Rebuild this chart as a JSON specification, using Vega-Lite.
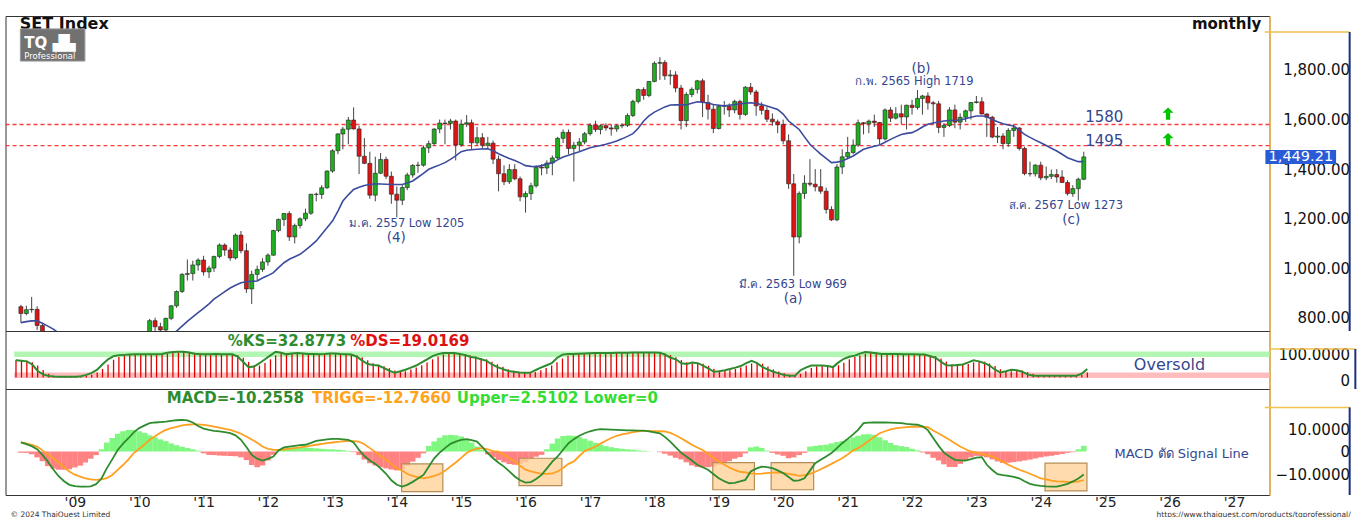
{
"$schema":"https://vega.github.io/schema/vega-lite/v6.json",
"padding":{"left":3.5,"top":15,"right":0,"bottom":0},
"background":"white",
"spacing":0,
"bounds":"flush",
"config":{"view":{"stroke":"#333","strokeWidth":1},"font":"DejaVu Sans"},
"datasets":{"set":[
{"t":"2008-03-01","o":844.6,"h":852,"l":780,"c":817.0,"ma":780,"k":66,"d":68,"m":4.1,"s":4.1,"hh":-0.5},
{"t":"2008-04-01","o":817.0,"h":848,"l":810,"c":832.5,"ma":784,"k":64,"d":66,"m":3.3,"s":3.6,"hh":-0.6},
{"t":"2008-05-01","o":832.5,"h":884,"l":820,"c":833.7,"ma":787,"k":62,"d":64,"m":2.4,"s":2.9,"hh":-1.2},
{"t":"2008-06-01","o":833.7,"h":846,"l":750,"c":768.6,"ma":787,"k":50,"d":59,"m":1.0,"s":2.2,"hh":-2.6},
{"t":"2008-07-01","o":768.6,"h":775,"l":650,"c":676.0,"ma":778,"k":25,"d":46,"m":-1.5,"s":0.5,"hh":-4.3},
{"t":"2008-08-01","o":676.0,"h":720,"l":650,"c":684.4,"ma":766,"k":12,"d":29,"m":-4.5,"s":-1.3,"hh":-6.5},
{"t":"2008-09-01","o":684.4,"h":700,"l":580,"c":596.5,"ma":754,"k":6,"d":14,"m":-8.0,"s":-3.0,"hh":-7.6},
{"t":"2008-10-01","o":596.5,"h":610,"l":380,"c":416.5,"ma":738,"k":4,"d":7,"m":-11.0,"s":-5.0,"hh":-8.1},
{"t":"2008-11-01","o":416.5,"h":440,"l":384,"c":401.0,"ma":722,"k":3,"d":4,"m":-13.2,"s":-7.0,"hh":-8.1},
{"t":"2008-12-01","o":401.0,"h":460,"l":390,"c":450.0,"ma":706,"k":3,"d":3,"m":-14.8,"s":-8.9,"hh":-7.9},
{"t":"2009-01-01","o":450.0,"h":460,"l":422,"c":437.7,"ma":690,"k":3,"d":3,"m":-15.4,"s":-10.3,"hh":-7.1},
{"t":"2009-02-01","o":437.7,"h":455,"l":415,"c":431.5,"ma":675,"k":3,"d":3,"m":-15.6,"s":-11.2,"hh":-6.3},
{"t":"2009-03-01","o":431.5,"h":450,"l":412,"c":431.5,"ma":660,"k":5,"d":4,"m":-15.6,"s":-11.9,"hh":-4.9},
{"t":"2009-04-01","o":431.5,"h":500,"l":425,"c":491.1,"ma":648,"k":10,"d":6,"m":-15.5,"s":-12.4,"hh":-3.2},
{"t":"2009-05-01","o":491.1,"h":570,"l":488,"c":560.4,"ma":638,"k":18,"d":11,"m":-14.5,"s":-12.6,"hh":-1.6},
{"t":"2009-06-01","o":560.4,"h":610,"l":545,"c":597.5,"ma":630,"k":30,"d":19,"m":-12.0,"s":-12.4,"hh":1.0},
{"t":"2009-07-01","o":597.5,"h":630,"l":575,"c":624.0,"ma":625,"k":51,"d":33,"m":-7.5,"s":-11.8,"hh":4.0},
{"t":"2009-08-01","o":624.0,"h":665,"l":615,"c":653.3,"ma":622,"k":70,"d":50,"m":-3.5,"s":-10.4,"hh":6.0},
{"t":"2009-09-01","o":653.3,"h":720,"l":640,"c":717.1,"ma":622,"k":82,"d":68,"m":0.7,"s":-8.2,"hh":7.9},
{"t":"2009-10-01","o":717.1,"h":738,"l":660,"c":671.3,"ma":624,"k":86,"d":79,"m":3.5,"s":-6.0,"hh":9.0},
{"t":"2009-11-01","o":671.3,"h":710,"l":630,"c":689.1,"ma":628,"k":87,"d":85,"m":5.9,"s":-3.5,"hh":9.6},
{"t":"2009-12-01","o":689.1,"h":737,"l":680,"c":734.5,"ma":634,"k":88,"d":87,"m":8.5,"s":-0.7,"hh":9.6},
{"t":"2010-01-01","o":734.5,"h":742,"l":680,"c":696.6,"ma":642,"k":89,"d":88,"m":10.4,"s":1.2,"hh":9.0},
{"t":"2010-02-01","o":696.6,"h":730,"l":685,"c":726.1,"ma":652,"k":89,"d":89,"m":11.6,"s":3.2,"hh":8.3},
{"t":"2010-03-01","o":726.1,"h":795,"l":720,"c":788.0,"ma":664,"k":89,"d":89,"m":12.6,"s":5.2,"hh":7.2},
{"t":"2010-04-01","o":788.0,"h":800,"l":743,"c":763.5,"ma":677,"k":89,"d":89,"m":12.9,"s":6.8,"hh":6.3},
{"t":"2010-05-01","o":763.5,"h":780,"l":715,"c":750.4,"ma":690,"k":89,"d":89,"m":13.1,"s":8.3,"hh":5.4},
{"t":"2010-06-01","o":750.4,"h":800,"l":745,"c":797.3,"ma":705,"k":90,"d":89,"m":13.3,"s":9.6,"hh":4.6},
{"t":"2010-07-01","o":797.3,"h":850,"l":790,"c":847.9,"ma":725,"k":95,"d":91,"m":13.6,"s":10.4,"hh":3.6},
{"t":"2010-08-01","o":847.9,"h":910,"l":840,"c":905.5,"ma":746,"k":98,"d":94,"m":13.9,"s":11.0,"hh":2.8},
{"t":"2010-09-01","o":905.5,"h":980,"l":900,"c":974.8,"ma":766,"k":99,"d":97,"m":14.1,"s":11.6,"hh":2.1},
{"t":"2010-10-01","o":974.8,"h":1035,"l":950,"c":978.0,"ma":785,"k":99,"d":99,"m":13.8,"s":11.9,"hh":1.6},
{"t":"2010-11-01","o":978.0,"h":1030,"l":950,"c":1012.9,"ma":803,"k":96,"d":98,"m":12.9,"s":12.1,"hh":1.0},
{"t":"2010-12-01","o":1012.9,"h":1040,"l":990,"c":1032.8,"ma":820,"k":91,"d":95,"m":11.3,"s":12.1,"hh":0.4},
{"t":"2011-01-01","o":1032.8,"h":1050,"l":970,"c":984.9,"ma":838,"k":89,"d":92,"m":10.2,"s":11.8,"hh":-0.8},
{"t":"2011-02-01","o":984.9,"h":1010,"l":960,"c":1000.3,"ma":856,"k":89,"d":90,"m":9.6,"s":11.5,"hh":-1.5},
{"t":"2011-03-01","o":1000.3,"h":1050,"l":985,"c":1047.4,"ma":875,"k":89,"d":89,"m":9.2,"s":11.1,"hh":-1.6},
{"t":"2011-04-01","o":1047.4,"h":1100,"l":1040,"c":1093.3,"ma":890,"k":90,"d":89,"m":8.9,"s":10.6,"hh":-1.8},
{"t":"2011-05-01","o":1093.3,"h":1100,"l":1050,"c":1073.0,"ma":905,"k":89,"d":89,"m":8.6,"s":10.1,"hh":-1.9},
{"t":"2011-06-01","o":1073.0,"h":1083,"l":1030,"c":1041.5,"ma":920,"k":89,"d":89,"m":8.2,"s":9.6,"hh":-2.0},
{"t":"2011-07-01","o":1041.5,"h":1140,"l":1035,"c":1133.5,"ma":931,"k":89,"d":89,"m":7.2,"s":8.8,"hh":-2.1},
{"t":"2011-08-01","o":1133.5,"h":1150,"l":1060,"c":1070.6,"ma":941,"k":80,"d":86,"m":5.2,"s":7.9,"hh":-2.6},
{"t":"2011-09-01","o":1070.6,"h":1100,"l":900,"c":916.2,"ma":945,"k":60,"d":76,"m":2.0,"s":6.7,"hh":-3.8},
{"t":"2011-10-01","o":916.2,"h":990,"l":855,"c":974.8,"ma":947,"k":40,"d":60,"m":-1.5,"s":5.3,"hh":-6.0},
{"t":"2011-11-01","o":974.8,"h":1010,"l":950,"c":995.0,"ma":948,"k":42,"d":47,"m":-3.2,"s":3.9,"hh":-7.0},
{"t":"2011-12-01","o":995.0,"h":1040,"l":985,"c":1025.3,"ma":960,"k":55,"d":46,"m":-4.0,"s":2.2,"hh":-6.2},
{"t":"2012-01-01","o":1025.3,"h":1060,"l":1010,"c":1052.4,"ma":970,"k":70,"d":56,"m":-3.3,"s":1.2,"hh":-4.0},
{"t":"2012-02-01","o":1052.4,"h":1155,"l":1050,"c":1151.8,"ma":982,"k":85,"d":70,"m":-2.2,"s":0.7,"hh":-1.5},
{"t":"2012-03-01","o":1151.8,"h":1200,"l":1145,"c":1196.8,"ma":1002,"k":99,"d":85,"m":0.5,"s":0.7,"hh":1.0},
{"t":"2012-04-01","o":1196.8,"h":1222,"l":1170,"c":1220.6,"ma":1022,"k":95,"d":93,"m":1.8,"s":0.9,"hh":1.5},
{"t":"2012-05-01","o":1220.6,"h":1230,"l":1110,"c":1126.1,"ma":1036,"k":89,"d":94,"m":2.2,"s":1.2,"hh":1.7},
{"t":"2012-06-01","o":1126.1,"h":1180,"l":1100,"c":1172.1,"ma":1046,"k":92,"d":92,"m":2.5,"s":1.5,"hh":1.8},
{"t":"2012-07-01","o":1172.1,"h":1205,"l":1160,"c":1199.1,"ma":1056,"k":94,"d":92,"m":2.8,"s":1.8,"hh":1.8},
{"t":"2012-08-01","o":1199.1,"h":1240,"l":1190,"c":1221.9,"ma":1073,"k":92,"d":93,"m":3.0,"s":2.2,"hh":1.8},
{"t":"2012-09-01","o":1221.9,"h":1300,"l":1215,"c":1298.4,"ma":1091,"k":90,"d":92,"m":3.8,"s":2.6,"hh":1.6},
{"t":"2012-10-01","o":1298.4,"h":1305,"l":1270,"c":1297.7,"ma":1110,"k":90,"d":91,"m":4.7,"s":3.0,"hh":1.4},
{"t":"2012-11-01","o":1297.7,"h":1335,"l":1280,"c":1324.5,"ma":1137,"k":89,"d":90,"m":5.1,"s":3.4,"hh":1.2},
{"t":"2012-12-01","o":1324.5,"h":1395,"l":1320,"c":1391.9,"ma":1163,"k":90,"d":90,"m":5.4,"s":3.7,"hh":1.0},
{"t":"2013-01-01","o":1391.9,"h":1480,"l":1385,"c":1474.3,"ma":1190,"k":92,"d":90,"m":5.6,"s":4.0,"hh":1.0},
{"t":"2013-02-01","o":1474.3,"h":1545,"l":1460,"c":1541.9,"ma":1230,"k":92,"d":91,"m":5.6,"s":4.3,"hh":0.8},
{"t":"2013-03-01","o":1541.9,"h":1570,"l":1480,"c":1561.1,"ma":1271,"k":90,"d":91,"m":5.4,"s":4.5,"hh":0.6},
{"t":"2013-04-01","o":1561.1,"h":1610,"l":1500,"c":1597.9,"ma":1296,"k":89,"d":90,"m":5.2,"s":4.7,"hh":0.3},
{"t":"2013-05-01","o":1597.9,"h":1649,"l":1560,"c":1562.1,"ma":1318,"k":88,"d":89,"m":4.0,"s":4.6,"hh":-0.3},
{"t":"2013-06-01","o":1562.1,"h":1575,"l":1380,"c":1451.9,"ma":1327,"k":80,"d":86,"m":0.7,"s":4.4,"hh":-1.6},
{"t":"2013-07-01","o":1451.9,"h":1525,"l":1420,"c":1423.1,"ma":1334,"k":65,"d":78,"m":-2.0,"s":3.2,"hh":-3.6},
{"t":"2013-08-01","o":1423.1,"h":1470,"l":1280,"c":1294.7,"ma":1338,"k":52,"d":66,"m":-4.0,"s":1.5,"hh":-5.2},
{"t":"2013-09-01","o":1294.7,"h":1450,"l":1270,"c":1383.2,"ma":1341,"k":48,"d":55,"m":-5.5,"s":-0.2,"hh":-6.2},
{"t":"2013-10-01","o":1383.2,"h":1465,"l":1380,"c":1438.9,"ma":1340,"k":46,"d":49,"m":-7.5,"s":-2.0,"hh":-7.0},
{"t":"2013-11-01","o":1438.9,"h":1450,"l":1360,"c":1371.1,"ma":1339,"k":36,"d":43,"m":-9.9,"s":-3.7,"hh":-7.5},
{"t":"2013-12-01","o":1371.1,"h":1390,"l":1260,"c":1298.7,"ma":1338,"k":26,"d":36,"m":-12.8,"s":-5.6,"hh":-8.0},
{"t":"2014-01-01","o":1298.7,"h":1330,"l":1205,"c":1274.3,"ma":1338,"k":18,"d":27,"m":-14.8,"s":-7.5,"hh":-8.4},
{"t":"2014-02-01","o":1274.3,"h":1335,"l":1255,"c":1325.3,"ma":1338,"k":24,"d":23,"m":-15.6,"s":-8.5,"hh":-7.8},
{"t":"2014-03-01","o":1325.3,"h":1385,"l":1315,"c":1376.3,"ma":1344,"k":30,"d":24,"m":-14.8,"s":-10.0,"hh":-6.3},
{"t":"2014-04-01","o":1376.3,"h":1420,"l":1365,"c":1414.9,"ma":1352,"k":38,"d":31,"m":-13.5,"s":-10.8,"hh":-4.5},
{"t":"2014-05-01","o":1414.9,"h":1430,"l":1385,"c":1415.7,"ma":1367,"k":46,"d":38,"m":-12.0,"s":-11.4,"hh":-2.8},
{"t":"2014-06-01","o":1415.7,"h":1495,"l":1410,"c":1485.8,"ma":1383,"k":58,"d":47,"m":-10.4,"s":-11.9,"hh":-0.8},
{"t":"2014-07-01","o":1485.8,"h":1515,"l":1465,"c":1502.7,"ma":1399,"k":70,"d":58,"m":-6.8,"s":-11.5,"hh":2.5},
{"t":"2014-08-01","o":1502.7,"h":1565,"l":1495,"c":1561.6,"ma":1408,"k":82,"d":70,"m":-3.0,"s":-10.8,"hh":4.5},
{"t":"2014-09-01","o":1561.6,"h":1600,"l":1545,"c":1585.7,"ma":1417,"k":90,"d":81,"m":-0.5,"s":-10.0,"hh":6.1},
{"t":"2014-10-01","o":1585.7,"h":1600,"l":1500,"c":1584.2,"ma":1426,"k":94,"d":89,"m":1.5,"s":-8.6,"hh":7.2},
{"t":"2014-11-01","o":1584.2,"h":1603,"l":1560,"c":1593.9,"ma":1439,"k":94,"d":93,"m":3.4,"s":-6.7,"hh":7.4},
{"t":"2014-12-01","o":1593.9,"h":1600,"l":1435,"c":1497.7,"ma":1453,"k":94,"d":94,"m":4.4,"s":-4.9,"hh":7.2},
{"t":"2015-01-01","o":1497.7,"h":1600,"l":1490,"c":1581.3,"ma":1470,"k":90,"d":93,"m":5.2,"s":-2.8,"hh":6.7},
{"t":"2015-02-01","o":1581.3,"h":1618,"l":1570,"c":1587.0,"ma":1476,"k":86,"d":90,"m":5.5,"s":-0.7,"hh":5.6},
{"t":"2015-03-01","o":1587.0,"h":1600,"l":1480,"c":1505.9,"ma":1478,"k":80,"d":85,"m":5.1,"s":0.5,"hh":4.0},
{"t":"2015-04-01","o":1505.9,"h":1570,"l":1495,"c":1526.7,"ma":1480,"k":76,"d":81,"m":4.4,"s":1.3,"hh":2.2},
{"t":"2015-05-01","o":1526.7,"h":1545,"l":1480,"c":1496.1,"ma":1481,"k":70,"d":75,"m":2.0,"s":1.5,"hh":0.8},
{"t":"2015-06-01","o":1496.1,"h":1530,"l":1480,"c":1504.6,"ma":1482,"k":64,"d":70,"m":-0.7,"s":1.0,"hh":-1.3},
{"t":"2015-07-01","o":1504.6,"h":1515,"l":1420,"c":1440.1,"ma":1474,"k":50,"d":61,"m":-3.0,"s":0.2,"hh":-2.6},
{"t":"2015-08-01","o":1440.1,"h":1455,"l":1310,"c":1381.1,"ma":1462,"k":40,"d":51,"m":-5.0,"s":0.0,"hh":-3.8},
{"t":"2015-09-01","o":1381.1,"h":1415,"l":1335,"c":1349.0,"ma":1452,"k":32,"d":41,"m":-6.7,"s":-1.5,"hh":-4.8},
{"t":"2015-10-01","o":1349.0,"h":1420,"l":1340,"c":1397.9,"ma":1443,"k":25,"d":32,"m":-8.8,"s":-3.0,"hh":-5.6},
{"t":"2015-11-01","o":1397.9,"h":1420,"l":1355,"c":1360.7,"ma":1435,"k":22,"d":26,"m":-11.1,"s":-4.4,"hh":-5.9},
{"t":"2015-12-01","o":1360.7,"h":1370,"l":1270,"c":1288.0,"ma":1425,"k":19,"d":22,"m":-12.8,"s":-6.3,"hh":-5.5},
{"t":"2016-01-01","o":1288.0,"h":1310,"l":1224,"c":1301.0,"ma":1414,"k":18,"d":20,"m":-13.8,"s":-8.1,"hh":-4.7},
{"t":"2016-02-01","o":1301.0,"h":1345,"l":1275,"c":1332.4,"ma":1411,"k":18,"d":18,"m":-13.6,"s":-8.8,"hh":-3.4},
{"t":"2016-03-01","o":1332.4,"h":1415,"l":1325,"c":1407.7,"ma":1410,"k":28,"d":21,"m":-12.2,"s":-9.4,"hh":-2.3},
{"t":"2016-04-01","o":1407.7,"h":1420,"l":1375,"c":1404.4,"ma":1414,"k":38,"d":28,"m":-10.4,"s":-9.9,"hh":-1.5},
{"t":"2016-05-01","o":1404.4,"h":1435,"l":1380,"c":1424.3,"ma":1420,"k":46,"d":37,"m":-7.5,"s":-9.9,"hh":1.0},
{"t":"2016-06-01","o":1424.3,"h":1455,"l":1375,"c":1445.0,"ma":1426,"k":55,"d":46,"m":-4.5,"s":-9.7,"hh":3.5},
{"t":"2016-07-01","o":1445.0,"h":1530,"l":1440,"c":1524.1,"ma":1437,"k":75,"d":59,"m":-2.2,"s":-8.9,"hh":5.8},
{"t":"2016-08-01","o":1524.1,"h":1560,"l":1505,"c":1548.2,"ma":1449,"k":88,"d":73,"m":0.8,"s":-7.3,"hh":6.9},
{"t":"2016-09-01","o":1548.2,"h":1560,"l":1460,"c":1483.2,"ma":1456,"k":90,"d":84,"m":3.7,"s":-5.5,"hh":7.1},
{"t":"2016-10-01","o":1483.2,"h":1510,"l":1350,"c":1496.0,"ma":1463,"k":90,"d":89,"m":5.5,"s":-4.4,"hh":7.0},
{"t":"2016-11-01","o":1496.0,"h":1525,"l":1470,"c":1509.3,"ma":1470,"k":91,"d":90,"m":7.0,"s":-2.0,"hh":6.4},
{"t":"2016-12-01","o":1509.3,"h":1550,"l":1500,"c":1542.9,"ma":1478,"k":92,"d":91,"m":8.1,"s":0.2,"hh":5.7},
{"t":"2017-01-01","o":1542.9,"h":1585,"l":1535,"c":1577.1,"ma":1486,"k":93,"d":92,"m":9.0,"s":1.2,"hh":4.8},
{"t":"2017-02-01","o":1577.1,"h":1595,"l":1550,"c":1559.6,"ma":1491,"k":94,"d":93,"m":9.6,"s":2.2,"hh":3.8},
{"t":"2017-03-01","o":1559.6,"h":1580,"l":1540,"c":1575.1,"ma":1495,"k":94,"d":94,"m":9.9,"s":3.5,"hh":3.0},
{"t":"2017-04-01","o":1575.1,"h":1585,"l":1555,"c":1566.3,"ma":1500,"k":94,"d":94,"m":9.8,"s":4.8,"hh":2.4},
{"t":"2017-05-01","o":1566.3,"h":1580,"l":1535,"c":1561.8,"ma":1506,"k":94,"d":94,"m":9.7,"s":6.0,"hh":1.9},
{"t":"2017-06-01","o":1561.8,"h":1580,"l":1550,"c":1574.7,"ma":1513,"k":95,"d":94,"m":9.6,"s":7.0,"hh":1.5},
{"t":"2017-07-01","o":1574.7,"h":1585,"l":1565,"c":1576.7,"ma":1522,"k":95,"d":95,"m":9.5,"s":7.6,"hh":1.2},
{"t":"2017-08-01","o":1576.7,"h":1625,"l":1570,"c":1616.1,"ma":1532,"k":95,"d":95,"m":9.4,"s":8.1,"hh":1.0},
{"t":"2017-09-01","o":1616.1,"h":1680,"l":1610,"c":1673.2,"ma":1543,"k":96,"d":95,"m":9.4,"s":8.6,"hh":0.8},
{"t":"2017-10-01","o":1673.2,"h":1725,"l":1665,"c":1721.0,"ma":1565,"k":96,"d":96,"m":9.3,"s":9.0,"hh":0.5},
{"t":"2017-11-01","o":1721.0,"h":1730,"l":1680,"c":1697.2,"ma":1594,"k":96,"d":96,"m":9.3,"s":9.2,"hh":0.3},
{"t":"2017-12-01","o":1697.2,"h":1755,"l":1690,"c":1753.7,"ma":1615,"k":96,"d":96,"m":8.9,"s":9.2,"hh":0.1},
{"t":"2018-01-01","o":1753.7,"h":1835,"l":1750,"c":1826.9,"ma":1630,"k":96,"d":96,"m":8.5,"s":9.1,"hh":0},
{"t":"2018-02-01","o":1826.9,"h":1852,"l":1760,"c":1830.1,"ma":1641,"k":95,"d":96,"m":8.1,"s":9.0,"hh":-0.3},
{"t":"2018-03-01","o":1830.1,"h":1840,"l":1760,"c":1776.3,"ma":1651,"k":88,"d":93,"m":6.5,"s":8.9,"hh":-1.0},
{"t":"2018-04-01","o":1776.3,"h":1800,"l":1740,"c":1780.2,"ma":1659,"k":76,"d":86,"m":4.4,"s":8.3,"hh":-1.8},
{"t":"2018-05-01","o":1780.2,"h":1795,"l":1710,"c":1727.0,"ma":1660,"k":70,"d":78,"m":2.0,"s":7.2,"hh":-2.8},
{"t":"2018-06-01","o":1727.0,"h":1740,"l":1560,"c":1595.6,"ma":1659,"k":55,"d":67,"m":-0.5,"s":5.9,"hh":-3.5},
{"t":"2018-07-01","o":1595.6,"h":1710,"l":1570,"c":1701.1,"ma":1660,"k":52,"d":59,"m":-2.2,"s":4.5,"hh":-4.8},
{"t":"2018-08-01","o":1701.1,"h":1730,"l":1690,"c":1721.8,"ma":1666,"k":58,"d":55,"m":-4.0,"s":3.0,"hh":-6.2},
{"t":"2018-09-01","o":1721.8,"h":1760,"l":1705,"c":1756.4,"ma":1672,"k":55,"d":55,"m":-5.9,"s":1.8,"hh":-6.9},
{"t":"2018-10-01","o":1756.4,"h":1765,"l":1610,"c":1669.1,"ma":1670,"k":46,"d":53,"m":-7.0,"s":0.7,"hh":-7.1},
{"t":"2018-11-01","o":1669.1,"h":1700,"l":1600,"c":1641.9,"ma":1667,"k":34,"d":45,"m":-8.1,"s":-1.0,"hh":-7.0},
{"t":"2018-12-01","o":1641.9,"h":1660,"l":1545,"c":1563.9,"ma":1661,"k":22,"d":34,"m":-10.0,"s":-2.8,"hh":-6.7},
{"t":"2019-01-01","o":1563.9,"h":1660,"l":1560,"c":1654.0,"ma":1658,"k":24,"d":27,"m":-11.9,"s":-4.4,"hh":-5.9},
{"t":"2019-02-01","o":1654.0,"h":1675,"l":1620,"c":1653.6,"ma":1655,"k":28,"d":25,"m":-13.2,"s":-5.8,"hh":-5.2},
{"t":"2019-03-01","o":1653.6,"h":1665,"l":1610,"c":1638.7,"ma":1658,"k":33,"d":28,"m":-14.1,"s":-7.1,"hh":-4.3},
{"t":"2019-04-01","o":1638.7,"h":1680,"l":1625,"c":1673.2,"ma":1661,"k":38,"d":33,"m":-13.9,"s":-8.2,"hh":-3.2},
{"t":"2019-05-01","o":1673.2,"h":1680,"l":1600,"c":1620.7,"ma":1664,"k":44,"d":38,"m":-13.3,"s":-9.0,"hh":-2.5},
{"t":"2019-06-01","o":1620.7,"h":1735,"l":1615,"c":1730.3,"ma":1666,"k":55,"d":46,"m":-12.6,"s":-9.3,"hh":-0.8},
{"t":"2019-07-01","o":1730.3,"h":1748,"l":1700,"c":1711.4,"ma":1668,"k":64,"d":54,"m":-8.9,"s":-9.7,"hh":1.8},
{"t":"2019-08-01","o":1711.4,"h":1720,"l":1615,"c":1655.3,"ma":1665,"k":55,"d":58,"m":-7.6,"s":-9.9,"hh":2.2},
{"t":"2019-09-01","o":1655.3,"h":1670,"l":1620,"c":1637.2,"ma":1661,"k":40,"d":53,"m":-6.7,"s":-9.8,"hh":1.6},
{"t":"2019-10-01","o":1637.2,"h":1650,"l":1590,"c":1601.5,"ma":1655,"k":30,"d":42,"m":-6.9,"s":-9.6,"hh":0.4},
{"t":"2019-11-01","o":1601.5,"h":1625,"l":1575,"c":1590.6,"ma":1648,"k":22,"d":31,"m":-7.4,"s":-9.4,"hh":-0.6},
{"t":"2019-12-01","o":1590.6,"h":1600,"l":1545,"c":1579.8,"ma":1641,"k":16,"d":23,"m":-8.4,"s":-9.3,"hh":-1.3},
{"t":"2020-01-01","o":1579.8,"h":1600,"l":1500,"c":1514.1,"ma":1622,"k":10,"d":16,"m":-9.6,"s":-9.5,"hh":-1.9},
{"t":"2020-02-01","o":1514.1,"h":1540,"l":1320,"c":1340.5,"ma":1594,"k":7,"d":11,"m":-11.3,"s":-9.9,"hh":-3.0},
{"t":"2020-03-01","o":1340.5,"h":1380,"l":969,"c":1125.9,"ma":1577,"k":7,"d":8,"m":-13.0,"s":-10.3,"hh":-2.6},
{"t":"2020-04-01","o":1125.9,"h":1310,"l":1100,"c":1301.7,"ma":1560,"k":28,"d":14,"m":-12.8,"s":-10.8,"hh":-1.6},
{"t":"2020-05-01","o":1301.7,"h":1375,"l":1280,"c":1342.9,"ma":1530,"k":38,"d":24,"m":-11.9,"s":-10.5,"hh":-0.6},
{"t":"2020-06-01","o":1342.9,"h":1440,"l":1330,"c":1339.0,"ma":1500,"k":46,"d":37,"m":-8.5,"s":-9.9,"hh":2.2},
{"t":"2020-07-01","o":1339.0,"h":1400,"l":1310,"c":1328.5,"ma":1480,"k":46,"d":43,"m":-5.2,"s":-9.0,"hh":2.5},
{"t":"2020-08-01","o":1328.5,"h":1400,"l":1300,"c":1310.7,"ma":1460,"k":46,"d":46,"m":-3.7,"s":-7.9,"hh":2.8},
{"t":"2020-09-01","o":1310.7,"h":1325,"l":1220,"c":1237.0,"ma":1443,"k":44,"d":45,"m":-2.2,"s":-6.7,"hh":3.0},
{"t":"2020-10-01","o":1237.0,"h":1250,"l":1190,"c":1195.0,"ma":1426,"k":40,"d":43,"m":-0.7,"s":-5.5,"hh":3.6},
{"t":"2020-11-01","o":1195.0,"h":1420,"l":1190,"c":1408.3,"ma":1428,"k":58,"d":47,"m":1.5,"s":-4.2,"hh":4.2},
{"t":"2020-12-01","o":1408.3,"h":1480,"l":1380,"c":1449.4,"ma":1433,"k":72,"d":57,"m":3.7,"s":-3.0,"hh":4.7},
{"t":"2021-01-01","o":1449.4,"h":1530,"l":1440,"c":1467.0,"ma":1443,"k":80,"d":70,"m":5.6,"s":-1.3,"hh":5.5},
{"t":"2021-02-01","o":1467.0,"h":1520,"l":1460,"c":1496.8,"ma":1453,"k":84,"d":79,"m":7.6,"s":0.5,"hh":6.3},
{"t":"2021-03-01","o":1496.8,"h":1600,"l":1490,"c":1587.2,"ma":1466,"k":92,"d":85,"m":9.6,"s":1.5,"hh":7.0},
{"t":"2021-04-01","o":1587.2,"h":1590,"l":1540,"c":1583.1,"ma":1480,"k":98,"d":91,"m":12.6,"s":3.0,"hh":7.6},
{"t":"2021-05-01","o":1583.1,"h":1600,"l":1545,"c":1593.6,"ma":1486,"k":96,"d":95,"m":12.8,"s":4.8,"hh":7.7},
{"t":"2021-06-01","o":1593.6,"h":1620,"l":1570,"c":1587.8,"ma":1492,"k":93,"d":96,"m":12.9,"s":6.5,"hh":7.4},
{"t":"2021-07-01","o":1587.8,"h":1590,"l":1500,"c":1521.9,"ma":1497,"k":90,"d":93,"m":12.9,"s":8.1,"hh":6.3},
{"t":"2021-08-01","o":1521.9,"h":1645,"l":1515,"c":1638.8,"ma":1508,"k":90,"d":91,"m":12.9,"s":9.0,"hh":5.0},
{"t":"2021-09-01","o":1638.8,"h":1650,"l":1590,"c":1605.7,"ma":1520,"k":90,"d":90,"m":12.8,"s":9.8,"hh":3.8},
{"t":"2021-10-01","o":1605.7,"h":1650,"l":1600,"c":1623.4,"ma":1530,"k":90,"d":90,"m":12.7,"s":10.3,"hh":2.8},
{"t":"2021-11-01","o":1623.4,"h":1660,"l":1580,"c":1610.4,"ma":1540,"k":89,"d":90,"m":12.6,"s":10.6,"hh":2.4},
{"t":"2021-12-01","o":1610.4,"h":1660,"l":1560,"c":1657.6,"ma":1544,"k":89,"d":89,"m":12.3,"s":10.8,"hh":2.0},
{"t":"2022-01-01","o":1657.6,"h":1680,"l":1620,"c":1648.8,"ma":1547,"k":89,"d":89,"m":12.1,"s":11.0,"hh":1.2},
{"t":"2022-02-01","o":1648.8,"h":1719,"l":1640,"c":1685.2,"ma":1558,"k":88,"d":89,"m":11.9,"s":11.1,"hh":0.5},
{"t":"2022-03-01","o":1685.2,"h":1700,"l":1620,"c":1695.2,"ma":1570,"k":88,"d":88,"m":11.2,"s":11.0,"hh":-0.4},
{"t":"2022-04-01","o":1695.2,"h":1710,"l":1640,"c":1667.4,"ma":1581,"k":82,"d":86,"m":9.5,"s":10.8,"hh":-1.2},
{"t":"2022-05-01","o":1667.4,"h":1675,"l":1580,"c":1663.4,"ma":1586,"k":76,"d":82,"m":6.0,"s":9.3,"hh":-2.8},
{"t":"2022-06-01","o":1663.4,"h":1675,"l":1545,"c":1568.3,"ma":1590,"k":60,"d":73,"m":2.5,"s":8.0,"hh":-4.0},
{"t":"2022-07-01","o":1568.3,"h":1585,"l":1530,"c":1576.4,"ma":1594,"k":47,"d":61,"m":-0.5,"s":6.7,"hh":-5.7},
{"t":"2022-08-01","o":1576.4,"h":1650,"l":1570,"c":1638.9,"ma":1596,"k":46,"d":51,"m":-2.2,"s":5.2,"hh":-6.9},
{"t":"2022-09-01","o":1638.9,"h":1660,"l":1565,"c":1589.5,"ma":1597,"k":48,"d":47,"m":-3.7,"s":3.7,"hh":-6.9},
{"t":"2022-10-01","o":1589.5,"h":1625,"l":1560,"c":1609.1,"ma":1598,"k":50,"d":48,"m":-3.9,"s":2.2,"hh":-5.5},
{"t":"2022-11-01","o":1609.1,"h":1640,"l":1590,"c":1635.1,"ma":1603,"k":58,"d":52,"m":-4.0,"s":1.0,"hh":-4.0},
{"t":"2022-12-01","o":1635.1,"h":1670,"l":1600,"c":1668.7,"ma":1609,"k":66,"d":58,"m":-3.4,"s":0.0,"hh":-2.6},
{"t":"2023-01-01","o":1668.7,"h":1695,"l":1665,"c":1671.5,"ma":1614,"k":62,"d":62,"m":-2.7,"s":-0.4,"hh":-1.9},
{"t":"2023-02-01","o":1671.5,"h":1690,"l":1620,"c":1622.4,"ma":1614,"k":55,"d":61,"m":-2.5,"s":-1.0,"hh":-2.1},
{"t":"2023-03-01","o":1622.4,"h":1625,"l":1530,"c":1609.2,"ma":1612,"k":46,"d":54,"m":-5.9,"s":-1.6,"hh":-2.6},
{"t":"2023-04-01","o":1609.2,"h":1615,"l":1525,"c":1529.1,"ma":1600,"k":30,"d":44,"m":-8.2,"s":-2.2,"hh":-3.5},
{"t":"2023-05-01","o":1529.1,"h":1570,"l":1505,"c":1533.5,"ma":1591,"k":19,"d":32,"m":-10.1,"s":-3.4,"hh":-4.4},
{"t":"2023-06-01","o":1533.5,"h":1545,"l":1480,"c":1503.1,"ma":1583,"k":24,"d":24,"m":-10.5,"s":-4.6,"hh":-5.1},
{"t":"2023-07-01","o":1503.1,"h":1565,"l":1490,"c":1556.1,"ma":1578,"k":30,"d":24,"m":-10.8,"s":-5.9,"hh":-5.0},
{"t":"2023-08-01","o":1556.1,"h":1580,"l":1530,"c":1565.9,"ma":1574,"k":28,"d":27,"m":-11.3,"s":-7.0,"hh":-4.7},
{"t":"2023-09-01","o":1565.9,"h":1570,"l":1475,"c":1483.3,"ma":1557,"k":22,"d":27,"m":-11.9,"s":-8.1,"hh":-4.4},
{"t":"2023-10-01","o":1483.3,"h":1490,"l":1375,"c":1381.8,"ma":1540,"k":12,"d":21,"m":-13.2,"s":-8.9,"hh":-4.0},
{"t":"2023-11-01","o":1381.8,"h":1430,"l":1370,"c":1380.9,"ma":1528,"k":7,"d":14,"m":-14.4,"s":-9.9,"hh":-3.6},
{"t":"2023-12-01","o":1380.9,"h":1420,"l":1370,"c":1415.9,"ma":1517,"k":7,"d":9,"m":-14.9,"s":-10.9,"hh":-3.1},
{"t":"2024-01-01","o":1415.9,"h":1430,"l":1355,"c":1364.5,"ma":1506,"k":7,"d":7,"m":-15.3,"s":-11.9,"hh":-2.6},
{"t":"2024-02-01","o":1364.5,"h":1410,"l":1355,"c":1370.6,"ma":1495,"k":7,"d":7,"m":-15.5,"s":-12.4,"hh":-2.2},
{"t":"2024-03-01","o":1370.6,"h":1398,"l":1360,"c":1377.9,"ma":1484,"k":7,"d":7,"m":-15.6,"s":-12.9,"hh":-1.9},
{"t":"2024-04-01","o":1377.9,"h":1400,"l":1345,"c":1368.0,"ma":1473,"k":7,"d":7,"m":-15.6,"s":-13.3,"hh":-1.5},
{"t":"2024-05-01","o":1368.0,"h":1395,"l":1345,"c":1345.7,"ma":1460,"k":7,"d":7,"m":-15.0,"s":-13.4,"hh":-1.1},
{"t":"2024-06-01","o":1345.7,"h":1355,"l":1293,"c":1301.0,"ma":1446,"k":7,"d":7,"m":-14.4,"s":-13.5,"hh":-0.6},
{"t":"2024-07-01","o":1301.0,"h":1335,"l":1288,"c":1321.2,"ma":1438,"k":7,"d":7,"m":-13.3,"s":-13.6,"hh":-0.3},
{"t":"2024-08-01","o":1321.2,"h":1365,"l":1273,"c":1359.1,"ma":1430,"k":15,"d":10,"m":-12.0,"s":-13.3,"hh":1.0},
{"t":"2024-09-01","o":1359.1,"h":1470,"l":1355,"c":1449.21,"ma":1430,"k":32.88,"d":19.02,"m":-10.26,"s":-12.77,"hh":2.51}
]},
"vconcat":[
{
"width":1264,"height":315,
"layer":[
{"data":{"values":[{"y":1580},{"y":1495}]},"mark":{"type":"rule","color":"#ff3b3b","strokeDash":[4,3],"strokeWidth":1.3},
 "encoding":{"y":{"field":"y","type":"quantitative","scale":{"domain":[746.3,2018],"nice":false,"zero":false},"axis":{"orient":"right","values":[800,1000,1200,1400,1600,1800],"format":",.2f","title":null,"grid":false,"ticks":false,"tickSize":0,"labelAlign":"right","labelPadding":80,"labelFontSize":15,"labelColor":"#111","domainColor":"#f2c14e","domainWidth":1.5}}}},
{"data":{"name":"set"},"mark":{"type":"rule","color":"#444","strokeWidth":1,"clip":true},
 "encoding":{"x":{"field":"t","type":"temporal","scale":{"type":"utc","nice":false,"domain":[{"year":2008,"month":1,"date":2,"utc":true},{"year":2027,"month":6,"date":23,"utc":true}]},"axis":null},
  "y":{"field":"l","type":"quantitative"},"y2":{"field":"h"}}},
{"data":{"name":"set"},"mark":{"type":"bar","size":4,"stroke":"#222","strokeWidth":0.6,"clip":true},
 "encoding":{"x":{"field":"t","type":"temporal","axis":null},"y":{"field":"o","type":"quantitative"},"y2":{"field":"c"},
  "color":{"condition":{"test":"datum.c >= datum.o","value":"#1fae1f"},"value":"#dd1414"}}},
{"data":{"name":"set"},"mark":{"type":"line","color":"#3b4b9e","strokeWidth":1.6,"clip":true},
 "encoding":{"x":{"field":"t","type":"temporal","axis":null},"y":{"field":"ma","type":"quantitative"}}},
{"data":{"values":[{"t":"2014-02-26","v":1178,"txt":"ม.ค. 2557 Low 1205"},{"t":"2020-02-25","v":932,"txt":"มี.ค. 2563 Low 969"},{"t":"2022-01-14","v":1751,"txt":"ก.พ. 2565 High 1719"},{"t":"2024-05-22","v":1251,"txt":"ส.ค. 2567 Low 1273"}]},
 "mark":{"type":"text","fontSize":11.5,"color":"#34468f"},
 "encoding":{"x":{"field":"t","type":"temporal","axis":null},"y":{"field":"v","type":"quantitative"},"text":{"field":"txt"}}},
{"data":{"values":[{"t":"2013-12-29","v":1120,"txt":"(4)"},{"t":"2020-02-27","v":874,"txt":"(a)"},{"t":"2022-02-21","v":1803,"txt":"(b)"},{"t":"2024-06-22","v":1194,"txt":"(c)"}]},
 "mark":{"type":"text","fontSize":13.5,"color":"#34468f"},
 "encoding":{"x":{"field":"t","type":"temporal","axis":null},"y":{"field":"v","type":"quantitative"},"text":{"field":"txt"}}},
{"data":{"values":[{"t":"2024-12-26","v":1610,"txt":"1580"},{"t":"2024-12-26","v":1513,"txt":"1495"}]},
 "mark":{"type":"text","fontSize":15,"color":"#34468f"},
 "encoding":{"x":{"field":"t","type":"temporal","axis":null},"y":{"field":"v","type":"quantitative"},"text":{"field":"txt"}}},
{"data":{"values":[{"t":"2025-12-23","v":1624},{"t":"2025-12-23","v":1521}]},
 "mark":{"type":"point","shape":"M0,-1L0.9,-0.15L0.35,-0.15L0.35,1L-0.35,1L-0.35,-0.15L-0.9,-0.15Z","size":150,"filled":true,"color":"#00c400","opacity":1},
 "encoding":{"x":{"field":"t","type":"temporal","axis":null},"y":{"field":"v","type":"quantitative"}}},
{"data":{"values":[{"t":"2008-02-24","v":1987,"txt":"SET Index"}]},
 "mark":{"type":"text","fontSize":16,"fontWeight":"bold","align":"left","color":"#111"},
 "encoding":{"x":{"field":"t","type":"temporal","axis":null},"y":{"field":"v","type":"quantitative"},"text":{"field":"txt"}}},
{"data":{"values":[{"t":"2027-06-05","v":1985,"txt":"monthly"}]},
 "mark":{"type":"text","fontSize":15,"fontWeight":"bold","align":"right","color":"#111"},
 "encoding":{"x":{"field":"t","type":"temporal","axis":null},"y":{"field":"v","type":"quantitative"},"text":{"field":"txt"}}},
{"data":{"values":[{"t":"2008-02-27","t2":"2009-02-27","v":1966,"v2":1836}]},
 "mark":{"type":"rect","color":"#717171","stroke":"#9a9a9a","strokeWidth":1},
 "encoding":{"x":{"field":"t","type":"temporal","axis":null},"x2":{"field":"t2"},"y":{"field":"v","type":"quantitative"},"y2":{"field":"v2"}}},
{"data":{"values":[{"t":"2008-03-20","v":1909,"txt":"TQ ▟▙"}]},
 "mark":{"type":"text","fontSize":15,"fontWeight":"bold","align":"left","color":"white"},
 "encoding":{"x":{"field":"t","type":"temporal","axis":null},"y":{"field":"v","type":"quantitative"},"text":{"field":"txt"}}},
{"data":{"values":[{"t":"2008-03-20","v":1856,"txt":"Professional"}]},
 "mark":{"type":"text","fontSize":8.5,"align":"left","color":"white"},
 "encoding":{"x":{"field":"t","type":"temporal","axis":null},"y":{"field":"v","type":"quantitative"},"text":{"field":"txt"}}},
{"data":{"values":[{"t":"2027-06-24","t2":"2028-10-18","v":1953.4}]},
 "mark":{"type":"rule","color":"#f2c14e","strokeWidth":1.5},
 "encoding":{"x":{"field":"t","type":"temporal","axis":null},"x2":{"field":"t2"},"y":{"field":"v","type":"quantitative"}}},
{"data":{"values":[{"t":"2028-10-18","v":1953.4,"v2":746.3}]},
 "mark":{"type":"rule","color":"#1f2f7a","strokeWidth":2},
 "encoding":{"x":{"field":"t","type":"temporal","axis":null},"y":{"field":"v","type":"quantitative"},"y2":{"field":"v2"}}},
{"data":{"values":[{"t":"2027-06-28","t2":"2028-08-02","v":1477,"v2":1420}]},
 "mark":{"type":"rect","color":"#2a5bd7"},
 "encoding":{"x":{"field":"t","type":"temporal","axis":null},"x2":{"field":"t2"},"y":{"field":"v","type":"quantitative"},"y2":{"field":"v2"}}},
{"data":{"values":[{"t":"2028-01-15","v":1449,"txt":"1,449.21"}]},
 "mark":{"type":"text","fontSize":14.5,"color":"white"},
 "encoding":{"x":{"field":"t","type":"temporal","axis":null},"y":{"field":"v","type":"quantitative"},"text":{"field":"txt"}}}
]
},
{
"width":1264,"height":58,
"layer":[
{"data":{"values":[{"t":"2008-02-20","t2":"2027-06-23","lo":79,"hi":100,"g":"up"},{"t":"2008-02-20","t2":"2027-06-23","lo":-2,"hi":19,"g":"dn"}]},
 "mark":{"type":"rect"},
 "encoding":{"x":{"field":"t","type":"temporal","scale":{"type":"utc","nice":false,"domain":[{"year":2008,"month":1,"date":2,"utc":true},{"year":2027,"month":6,"date":23,"utc":true}]},"axis":null},"x2":{"field":"t2"},
  "y":{"field":"lo","type":"quantitative","scale":{"domain":[-44.2,178.8],"nice":false,"zero":false},"axis":{"orient":"right","values":[0,100],"labelExpr":"datum.value == 0 ? '0' : format(datum.value, '.4f')","title":null,"grid":false,"ticks":false,"tickSize":0,"labelAlign":"right","labelPadding":80,"labelFontSize":15,"labelColor":"#111","domainColor":"#f2c14e","domainWidth":1.5,"labelOffset":3}},
  "y2":{"field":"hi"},
  "color":{"field":"g","type":"nominal","scale":{"domain":["up","dn"],"range":["#b3f5b3","#ffbcbc"]},"legend":null}}},
{"data":{"name":"set"},"mark":{"type":"rule","color":"#e00000","strokeWidth":1.3},
 "encoding":{"x":{"field":"t","type":"temporal","axis":null},"y":{"field":"d","type":"quantitative"},"y2":{"datum":0}}},
{"data":{"name":"set"},"mark":{"type":"line","color":"#2e8b2e","strokeWidth":2},
 "encoding":{"x":{"field":"t","type":"temporal","axis":null},"y":{"field":"k","type":"quantitative"}}},
{"data":{"values":[{"t":"2013-04-02","v":141,"txt":"%KS=32.8773"}]},
 "mark":{"type":"text","fontSize":15,"fontWeight":"bold","align":"right","color":"#2e8b2e"},
 "encoding":{"x":{"field":"t","type":"temporal","axis":null},"y":{"field":"v","type":"quantitative"},"text":{"field":"txt"}}},
{"data":{"values":[{"t":"2013-04-25","v":141,"txt":"%DS=19.0169"}]},
 "mark":{"type":"text","fontSize":15,"fontWeight":"bold","align":"left","color":"#e01010"},
 "encoding":{"x":{"field":"t","type":"temporal","axis":null},"y":{"field":"v","type":"quantitative"},"text":{"field":"txt"}}},
{"data":{"values":[{"t":"2025-12-07","v":48,"txt":"Oversold"}]},
 "mark":{"type":"text","fontSize":16,"color":"#34468f"},
 "encoding":{"x":{"field":"t","type":"temporal","axis":null},"y":{"field":"v","type":"quantitative"},"text":{"field":"txt"}}},
{"data":{"values":[{"t":"2027-06-24","t2":"2028-10-18","v":109.6}]},
 "mark":{"type":"rule","color":"#f2c14e","strokeWidth":1.5},
 "encoding":{"x":{"field":"t","type":"temporal","axis":null},"x2":{"field":"t2"},"y":{"field":"v","type":"quantitative"}}},
{"data":{"values":[{"t":"2028-10-18","v":109.6,"v2":-44.2}]},
 "mark":{"type":"rule","color":"#1f2f7a","strokeWidth":2},
 "encoding":{"x":{"field":"t","type":"temporal","axis":null},"y":{"field":"v","type":"quantitative"},"y2":{"field":"v2"}}}
]
},
{
"width":1264,"height":106,
"layer":[
{"data":{"name":"set"},"mark":{"type":"bar","size":5.6},
 "encoding":{"x":{"field":"t","type":"temporal","scale":{"type":"utc","nice":false,"domain":[{"year":2008,"month":1,"date":2,"utc":true},{"year":2027,"month":6,"date":23,"utc":true}]},
   "axis":{"orient":"bottom","values":[{"year":2009,"utc":true},{"year":2010,"utc":true},{"year":2011,"utc":true},{"year":2012,"utc":true},{"year":2013,"utc":true},{"year":2014,"utc":true},{"year":2015,"utc":true},{"year":2016,"utc":true},{"year":2017,"utc":true},{"year":2018,"utc":true},{"year":2019,"utc":true},{"year":2020,"utc":true},{"year":2021,"utc":true},{"year":2022,"utc":true},{"year":2023,"utc":true},{"year":2024,"utc":true},{"year":2025,"utc":true},{"year":2026,"utc":true},{"year":2027,"utc":true}],
   "labelExpr":"\"'\" + utcFormat(datum.value, '%y')","title":null,"grid":false,"domain":false,"tickSize":3,"tickColor":"#333","labelPadding":-3,"labelFontSize":14,"labelColor":"#222","labelFlush":false,"labelOverlap":false}},
  "y":{"field":"hh","type":"quantitative","scale":{"domain":[-19.33,27.78],"nice":false,"zero":false},"axis":{"orient":"right","values":[-10,0,10],"labelExpr":"datum.value == 0 ? '0' : format(datum.value, '.4f')","title":null,"grid":false,"ticks":false,"tickSize":0,"labelAlign":"right","labelPadding":80,"labelFontSize":15,"labelColor":"#111","domainColor":"#f2c14e","domainWidth":1.5}},
  "y2":{"datum":0},
  "color":{"condition":{"test":"datum.hh >= 0","value":"#80f780"},"value":"#ff8282"}}},
{"data":{"values":[{"a":"2014-01-28","b":"2014-09-19","lo":-17.8,"hi":-5.5},{"a":"2015-11-25","b":"2016-07-25","lo":-15.2,"hi":-3.0},{"a":"2018-11-28","b":"2019-07-22","lo":-17.0,"hi":-4.9},{"a":"2019-10-25","b":"2020-06-22","lo":-17.0,"hi":-4.9},{"a":"2024-01-25","b":"2024-09-19","lo":-17.5,"hi":-5.2}]},
 "mark":{"type":"rect","color":"#ffd29a","fillOpacity":0.8,"stroke":"#b58d55","strokeWidth":1.2},
 "encoding":{"x":{"field":"a","type":"temporal"},"x2":{"field":"b"},"y":{"field":"lo","type":"quantitative"},"y2":{"field":"hi"}}},
{"data":{"name":"set"},"mark":{"type":"line","color":"#ffa020","strokeWidth":1.8},
 "encoding":{"x":{"field":"t","type":"temporal"},"y":{"field":"s","type":"quantitative"}}},
{"data":{"name":"set"},"mark":{"type":"line","color":"#2e8b2e","strokeWidth":1.8},
 "encoding":{"x":{"field":"t","type":"temporal"},"y":{"field":"m","type":"quantitative"}}},
{"data":{"values":[{"t":"2012-07-23","v":23.6,"txt":"MACD=-10.2558"}]},
 "mark":{"type":"text","fontSize":15,"fontWeight":"bold","align":"right","color":"#2e8b2e"},
 "encoding":{"x":{"field":"t","type":"temporal"},"y":{"field":"v","type":"quantitative"},"text":{"field":"txt"}}},
{"data":{"values":[{"t":"2012-09-07","v":23.6,"txt":"TRIGG=-12.7660"}]},
 "mark":{"type":"text","fontSize":15,"fontWeight":"bold","align":"left","color":"#ffa31a"},
 "encoding":{"x":{"field":"t","type":"temporal"},"y":{"field":"v","type":"quantitative"},"text":{"field":"txt"}}},
{"data":{"values":[{"t":"2014-12-07","v":23.6,"txt":"Upper=2.5102 Lower=0"}]},
 "mark":{"type":"text","fontSize":15,"fontWeight":"bold","align":"left","color":"#33dd33"},
 "encoding":{"x":{"field":"t","type":"temporal"},"y":{"field":"v","type":"quantitative"},"text":{"field":"txt"}}},
{"data":{"values":[{"t":"2026-03-10","v":-1.0,"txt":"MACD ตัด Signal Line"}]},
 "mark":{"type":"text","fontSize":13,"color":"#34468f"},
 "encoding":{"x":{"field":"t","type":"temporal"},"y":{"field":"v","type":"quantitative"},"text":{"field":"txt"}}},
{"data":{"values":[{"t":"2027-06-24","t2":"2028-10-18","v":19.6}]},
 "mark":{"type":"rule","color":"#f2c14e","strokeWidth":1.5},
 "encoding":{"x":{"field":"t","type":"temporal"},"x2":{"field":"t2"},"y":{"field":"v","type":"quantitative"}}},
{"data":{"values":[{"t":"2028-10-18","v":19.6,"v2":-19.33}]},
 "mark":{"type":"rule","color":"#1f2f7a","strokeWidth":2},
 "encoding":{"x":{"field":"t","type":"temporal"},"y":{"field":"v","type":"quantitative"},"y2":{"field":"v2"}}},
{"data":{"values":[{"t":"2008-01-02","v":-28.2,"txt":"© 2024 ThaiQuest Limited"}]},
 "mark":{"type":"text","fontSize":7.5,"align":"left","color":"#333"},
 "encoding":{"x":{"field":"t","type":"temporal"},"y":{"field":"v","type":"quantitative"},"text":{"field":"txt"}}},
{"data":{"values":[{"t":"2028-10-24","v":-28.2,"txt":"https://www.thaiquest.com/products/tqprofessional/"}]},
 "mark":{"type":"text","fontSize":7.5,"align":"right","color":"#333"},
 "encoding":{"x":{"field":"t","type":"temporal"},"y":{"field":"v","type":"quantitative"},"text":{"field":"txt"}}}
]
}
]
}
